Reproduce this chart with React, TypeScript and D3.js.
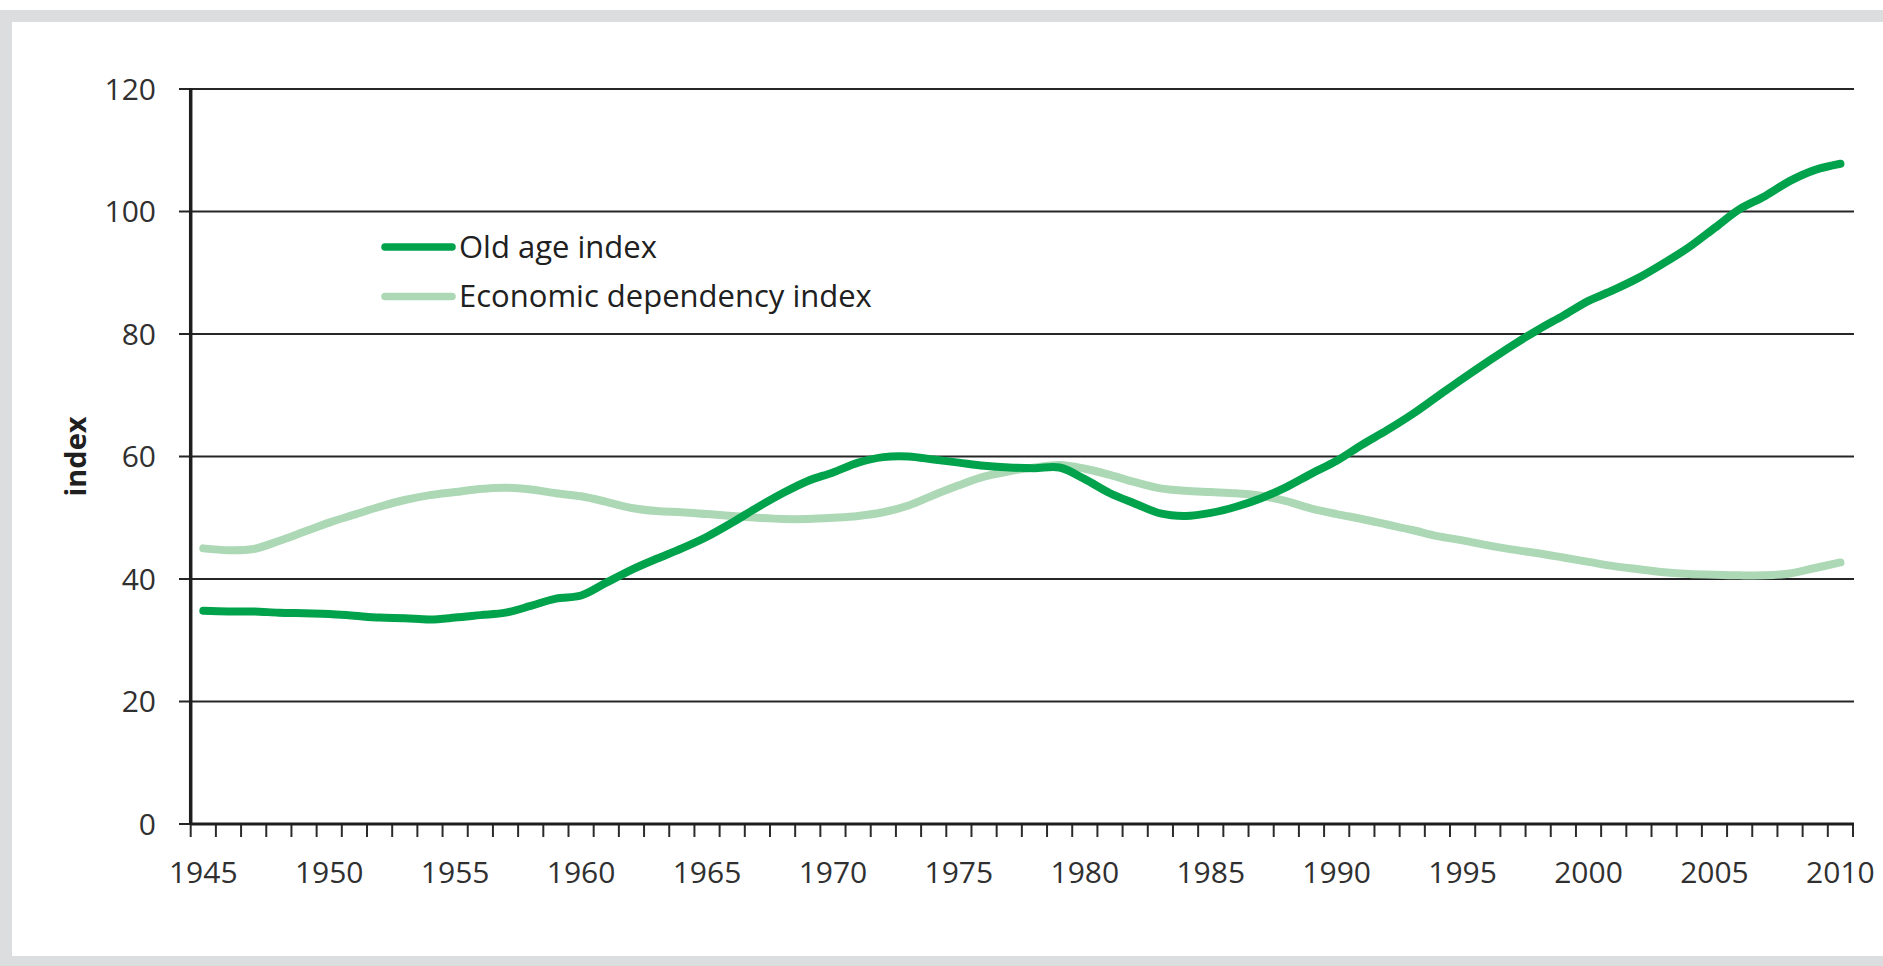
import React, { useEffect, useRef } from 'react';
import * as d3 from 'd3';

// Years shown on the category axis
const years: number[] = d3.range(1945, 2011);

// Old age index, one value per year
const oldAgeIndex: number[] = [
    34.8, 34.7, 34.7, 34.5, 34.4, 34.3, 34.0, 33.7, 33.6, 33.4,
    33.7, 34.1, 34.5, 35.6, 36.8, 37.3, 39.4, 41.5, 43.3, 45.0,
    46.9, 49.2, 51.7, 54.0, 56.0, 57.4, 59.0, 59.9, 60.0, 59.5,
    59.0, 58.5, 58.2, 58.1, 58.2, 56.3, 54.0, 52.3, 50.7, 50.3,
    50.8, 51.8, 53.2, 55.0, 57.2, 59.3, 61.9, 64.3, 66.9, 69.8,
    72.7, 75.5, 78.2, 80.7, 83.0, 85.4, 87.2, 89.2, 91.6, 94.2,
    97.3, 100.4, 102.5, 105.0, 106.8, 107.8,
];

// Economic dependency index, one value per year
const economicDependency: number[] = [
    45.0, 44.7, 44.9, 46.2, 47.7, 49.2, 50.5, 51.8, 52.9, 53.7,
    54.2, 54.7, 54.9, 54.6, 54.0, 53.5, 52.6, 51.6, 51.1, 50.9,
    50.6, 50.3, 50.0, 49.8, 49.8, 50.0, 50.3, 50.9, 52.0, 53.7,
    55.3, 56.7, 57.6, 58.2, 58.6, 58.0, 57.0, 55.8, 54.8, 54.4,
    54.2, 54.0, 53.6, 52.7, 51.5, 50.6, 49.8, 48.9, 48.0, 47.0,
    46.3, 45.5, 44.8, 44.2, 43.5, 42.8, 42.1, 41.6, 41.1, 40.8,
    40.7, 40.6, 40.6, 40.9, 41.8, 42.7,
];

const yTicks: number[] = [0, 20, 40, 60, 80, 100, 120];
const xLabelYears: number[] = [1945, 1950, 1955, 1960, 1965, 1970, 1975, 1980, 1985, 1990, 1995, 2000, 2005, 2010];

const seriesNames: string[] = ['Old age index', 'Economic dependency index'];
const seriesColors: string[] = ['#00a24c', '#acd8b5'];

const W = 1883;
const H = 966;
const plot = { left: 190.7, right: 1853, top: 89, bottom: 824 };
const font = "'Open Sans', sans-serif";

function App() {
    const ref = useRef<SVGSVGElement>(null);

    useEffect(() => {
        const svg = d3.select(ref.current).html('');

        // Frame
        svg.append('rect').attr('x', 0).attr('y', 0).attr('width', W).attr('height', H).attr('fill', '#ffffff');
        svg.append('rect').attr('x', 0).attr('y', 10).attr('width', W).attr('height', H - 10).attr('fill', '#dcdddf');
        svg.append('rect').attr('x', 12).attr('y', 22).attr('width', W - 12).attr('height', 934).attr('fill', '#ffffff');

        const x = d3.scaleBand<number>().domain(years).range([plot.left, plot.right]).paddingInner(0).paddingOuter(0);
        const y = d3.scaleLinear().domain([0, 120]).range([plot.bottom, plot.top]);
        const cx = (yr: number) => (x(yr) as number) + x.bandwidth() / 2;

        // Gridlines and y ticks
        const grid = svg.append('g');
        yTicks.forEach((t) => {
            grid.append('line')
                .attr('x1', 179).attr('x2', plot.right + 1)
                .attr('y1', y(t)).attr('y2', y(t))
                .attr('stroke', '#262626').attr('stroke-width', 1.8);
            grid.append('text')
                .attr('x', 156).attr('y', y(t)).attr('dy', '0.36em')
                .attr('text-anchor', 'end')
                .attr('font-family', font).attr('font-size', 30).attr('fill', '#303030')
                .text(t);
        });

        // X ticks at category boundaries
        const boundaries = years.map((yr) => x(yr) as number).concat([plot.right]);
        svg.append('g').selectAll('line').data(boundaries).enter().append('line')
            .attr('x1', (d) => d).attr('x2', (d) => d)
            .attr('y1', plot.bottom).attr('y2', plot.bottom + 13)
            .attr('stroke', '#2b2b2b').attr('stroke-width', 2);

        svg.append('g').selectAll('text').data(xLabelYears).enter().append('text')
            .attr('x', (d) => cx(d)).attr('y', 883)
            .attr('text-anchor', 'middle')
            .attr('font-family', font).attr('font-size', 30).attr('fill', '#303030')
            .text((d) => d);

        // Axis lines
        svg.append('line').attr('x1', plot.left).attr('x2', plot.right + 1)
            .attr('y1', plot.bottom).attr('y2', plot.bottom)
            .attr('stroke', '#1e1e1e').attr('stroke-width', 3);
        svg.append('line').attr('x1', plot.left).attr('x2', plot.left)
            .attr('y1', plot.top - 1).attr('y2', plot.bottom + 1)
            .attr('stroke', '#1e1e1e').attr('stroke-width', 3.5);

        // Y axis title
        svg.append('text')
            .attr('transform', 'translate(86,' + (plot.top + plot.bottom) / 2 + ') rotate(-90)')
            .attr('text-anchor', 'middle')
            .attr('font-family', font).attr('font-size', 29).attr('font-weight', 'bold').attr('fill', '#202020')
            .text('index');

        // Lines
        const line = d3.line<number>()
            .x((_, i) => cx(years[i]))
            .y((d) => y(d))
            .curve(d3.curveCatmullRom.alpha(0.5));

        [economicDependency, oldAgeIndex].forEach((values, k) => {
            const color = k === 0 ? seriesColors[1] : seriesColors[0];
            svg.append('path')
                .attr('d', line(values))
                .attr('fill', 'none')
                .attr('stroke', color)
                .attr('stroke-width', 8)
                .attr('stroke-linecap', 'round')
                .attr('stroke-linejoin', 'round');
        });

        // Legend
        const legend = svg.append('g');
        seriesNames.forEach((name, i) => {
            const ly = 247 + i * 49.5;
            legend.append('line')
                .attr('x1', 385).attr('x2', 452).attr('y1', ly).attr('y2', ly)
                .attr('stroke', seriesColors[i]).attr('stroke-width', 7.5).attr('stroke-linecap', 'round');
            legend.append('text')
                .attr('x', 459).attr('y', ly + 10.5)
                .attr('font-family', font).attr('font-size', 31).attr('fill', '#202020')
                .text(name);
        });
    }, []);

    return (
        <svg ref={ref} width={W} height={H}
            style={{ position: 'absolute', left: 0, top: 0, display: 'block' }} />
    );
}

export default App;
